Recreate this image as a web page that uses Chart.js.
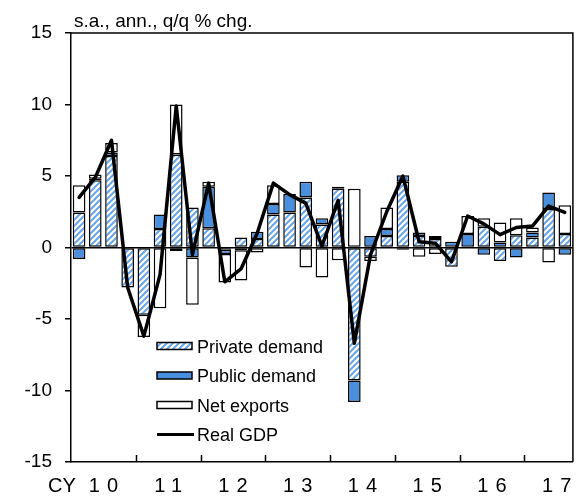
<!DOCTYPE html>
<html>
<head>
<meta charset="utf-8">
<script src="https://cdn.jsdelivr.net/npm/chart.js@4.4.1/dist/chart.umd.min.js"></script>
<style>
html, body { margin: 0; padding: 0; background: #ffffff; }
canvas { display: block; }
</style>
</head>
<body>
<canvas id="c" width="580" height="499"></canvas>
<script>
// ---------------- data ----------------
const quarters = ['2010Q1','2010Q2','2010Q3','2010Q4','2011Q1','2011Q2','2011Q3','2011Q4',
  '2012Q1','2012Q2','2012Q3','2012Q4','2013Q1','2013Q2','2013Q3','2013Q4',
  '2014Q1','2014Q2','2014Q3','2014Q4','2015Q1','2015Q2','2015Q3','2015Q4',
  '2016Q1','2016Q2','2016Q3','2016Q4','2017Q1','2017Q2','2017Q3'];
const yearLabels = ['10','11','12','13','14','15','16','17'];
const privateDemand = [2.45, 4.7, 6.4, -2.8, -4.7, 1.3, 6.5, 2.8, 1.35, -0.15, 0.7, 0.6, 2.3, 2.45, 3.5, 1.6,
  4.1, -9.3, -0.65, 0.8, 4.6, 0.8, 0.6, -1.35, 0, 1.45, -0.95, 0.85, 0.7, 2.7, 0.95];
const publicDemand = [-0.8, 0.1, 0.25, 0, 0, 1.0, -0.25, -0.7, 2.9, -0.3, -0.2, 0.5, 0.75, 1.3, 1.1, 0.45,
  0.15, -1.5, 0.8, 0.5, 0.45, 0.25, 0.2, 0.4, 0.95, -0.5, 0.35, -0.7, 0.35, 1.15, -0.5];
const netExports = [1.9, 0.3, 0.65, 0, -1.55, -4.25, 3.5, -3.3, 0.35, -2.0, -2.1, -0.35, 1.3, 0, -1.4, -2.1,
  -0.9, 4.1, -0.3, 1.5, -0.15, -0.65, -0.45, 0, 1.25, 0.6, 1.4, 1.2, 0.35, -1.05, 2.0];
const realGDP = [3.5, 4.9, 7.5, -2.8, -6.2, -1.9, 9.9, -0.5, 4.5, -2.4, -1.5, 1.0, 4.5, 3.7, 3.1, 0.1,
  3.3, -6.7, -0.5, 2.5, 5.0, 0.4, 0.3, -1.0, 2.2, 1.65, 0.9, 1.4, 1.5, 2.9, 2.45];
const yTicks = [-15, -10, -5, 0, 5, 10, 15];
const seriesNames = ['Private demand', 'Public demand', 'Net exports', 'Real GDP'];
const unitNote = 's.a., ann., q/q % chg.';
const axisPrefix = 'CY';

// ---------------- styles ----------------
const BLUE = '#4a8fdd';
const HATCH_BLUE = '#68a5e8';
const FONT = '"Liberation Sans", Arial, Helvetica, sans-serif';

const canvas = document.getElementById('c');
const ctx0 = canvas.getContext('2d');
const hatch = (function () {
  const s = 6;
  const pc = document.createElement('canvas');
  pc.width = s; pc.height = s;
  const g = pc.getContext('2d');
  g.fillStyle = '#ffffff';
  g.fillRect(0, 0, s, s);
  g.strokeStyle = HATCH_BLUE;
  g.lineWidth = 2;
  g.beginPath();
  g.moveTo(-1, s + 1); g.lineTo(s + 1, -1);
  g.moveTo(-2, 2); g.lineTo(2, -2);
  g.moveTo(s - 2, s + 2); g.lineTo(s + 2, s - 2);
  g.stroke();
  return ctx0.createPattern(pc, 'repeat');
})();

// Linear scale whose tick labels are drawn with letter spacing
const BaseLinear = Chart.LinearScale || Chart.registry.getScale('linear');
class SpacedLinear extends BaseLinear {
  drawLabels(area) {
    const c = this.ctx;
    const has = 'letterSpacing' in c;
    const old = has ? c.letterSpacing : null;
    if (has) c.letterSpacing = '7px';
    c.save();
    if (has) c.translate(3.5, 0); // compensate trailing spacing when centred
    super.drawLabels(area);
    c.restore();
    if (has) c.letterSpacing = old || '0px';
  }
}
SpacedLinear.id = 'spacedLinear';
SpacedLinear.defaults = BaseLinear.defaults;
Chart.register(SpacedLinear);

const toXY = arr => arr.map((v, i) => ({ x: i, y: v }));

const barCommon = {
  type: 'bar',
  borderColor: '#000000',
  borderWidth: 1.5,
  borderSkipped: false,
  barPercentage: 0.78,
  categoryPercentage: 1.0,
  order: 1
};

// ---------------- plugins ----------------
const framePlugin = {
  id: 'frame',
  beforeDatasetsDraw(chart) {
    const a = chart.chartArea;
    const c = chart.ctx;
    c.save();
    c.strokeStyle = '#000';
    c.lineWidth = 1.5;
    c.beginPath();
    c.moveTo(a.left, a.top);
    c.lineTo(a.right, a.top);
    c.lineTo(a.right, a.bottom);
    c.stroke();
    // inward year-boundary tick marks on the x axis
    const xs = chart.scales.x;
    c.beginPath();
    for (let k = 1; k < yearLabels.length; k++) {
      const px = Math.round(xs.getPixelForValue(4 * k - 0.5)) + 0.5;
      c.moveTo(px, a.bottom);
      c.lineTo(px, a.bottom - 7);
    }
    c.stroke();
    c.restore();
  },
  afterDraw(chart) {
    const a = chart.chartArea;
    const c = chart.ctx;
    c.save();
    c.fillStyle = '#000';
    // unit note
    c.font = '19px ' + FONT;
    c.textAlign = 'left';
    c.textBaseline = 'alphabetic';
    c.fillText(unitNote, a.left + 3, 27);
    // CY prefix
    c.font = '20px ' + FONT;
    c.textBaseline = 'middle';
    c.fillText(axisPrefix, 48, 486);
    // legend
    const bx = 157, bw = 35, bh = 7, tx = 197;
    const ys = [346, 375.5, 405, 434.5];
    c.font = '18px ' + FONT;
    c.textBaseline = 'alphabetic';
    for (let i = 0; i < 4; i++) {
      const cy = ys[i];
      if (i < 3) {
        c.fillStyle = i === 0 ? hatch : (i === 1 ? BLUE : '#ffffff');
        c.fillRect(bx, cy - bh / 2, bw, bh);
        c.strokeStyle = '#000';
        c.lineWidth = 1.5;
        c.strokeRect(bx, cy - bh / 2, bw, bh);
      } else {
        c.strokeStyle = '#000';
        c.lineWidth = 3;
        c.beginPath();
        c.moveTo(bx, cy);
        c.lineTo(bx + bw + 2, cy);
        c.stroke();
      }
      c.fillStyle = '#000';
      c.fillText(seriesNames[i], tx, cy + 6.5);
    }
    c.restore();
  }
};

new Chart(canvas, {
  data: {
    datasets: [
      Object.assign({}, barCommon, { label: seriesNames[0], data: toXY(privateDemand), backgroundColor: hatch }),
      Object.assign({}, barCommon, { label: seriesNames[1], data: toXY(publicDemand), backgroundColor: BLUE }),
      Object.assign({}, barCommon, { label: seriesNames[2], data: toXY(netExports), backgroundColor: '#ffffff' }),
      {
        type: 'line', label: seriesNames[3], data: toXY(realGDP),
        borderColor: '#000000', borderWidth: 3.5, pointRadius: 0, tension: 0,
        borderJoinStyle: 'round', borderCapStyle: 'round', fill: false, stack: 'gdp', order: 0
      }
    ]
  },
  options: {
    responsive: false,
    animation: false,
    devicePixelRatio: 1,
    layout: { padding: { top: 33, right: 5, left: 0, bottom: 0 } },
    plugins: { legend: { display: false }, tooltip: { enabled: false }, title: { display: false } },
    scales: {
      x: {
        type: 'spacedLinear',
        position: 'bottom',
        min: -0.5, max: 30.5,
        offset: false,
        stacked: true,
        grid: { display: false, drawTicks: false, offset: false },
        border: { display: true, color: '#000', width: 1.5 },
        afterBuildTicks: s => { s.ticks = yearLabels.map((_, k) => ({ value: 1.5 + 4 * k })); },
        afterFit: s => { s.height = 37; },
        ticks: {
          autoSkip: false, maxRotation: 0, minRotation: 0, padding: 12, color: '#000',
          font: { family: FONT, size: 20 },
          callback: (v, i) => yearLabels[i]
        }
      },
      y: {
        type: 'linear',
        min: -15, max: 15,
        stacked: true,
        afterBuildTicks: s => { s.ticks = yTicks.map(v => ({ value: v })); },
        afterFit: s => { s.width = 71; },
        grid: {
          color: c => (c.tick && c.tick.value === 0) ? '#000' : 'rgba(0,0,0,0)',
          lineWidth: 1.5, tickColor: '#000', tickLength: 6, tickWidth: 1.5, drawTicks: true
        },
        border: { display: true, color: '#000', width: 1.5 },
        ticks: {
          padding: 13, color: '#000',
          font: { family: FONT, size: 19 },
          callback: v => String(v)
        }
      }
    }
  },
  plugins: [framePlugin]
});
</script>
</body>
</html>
